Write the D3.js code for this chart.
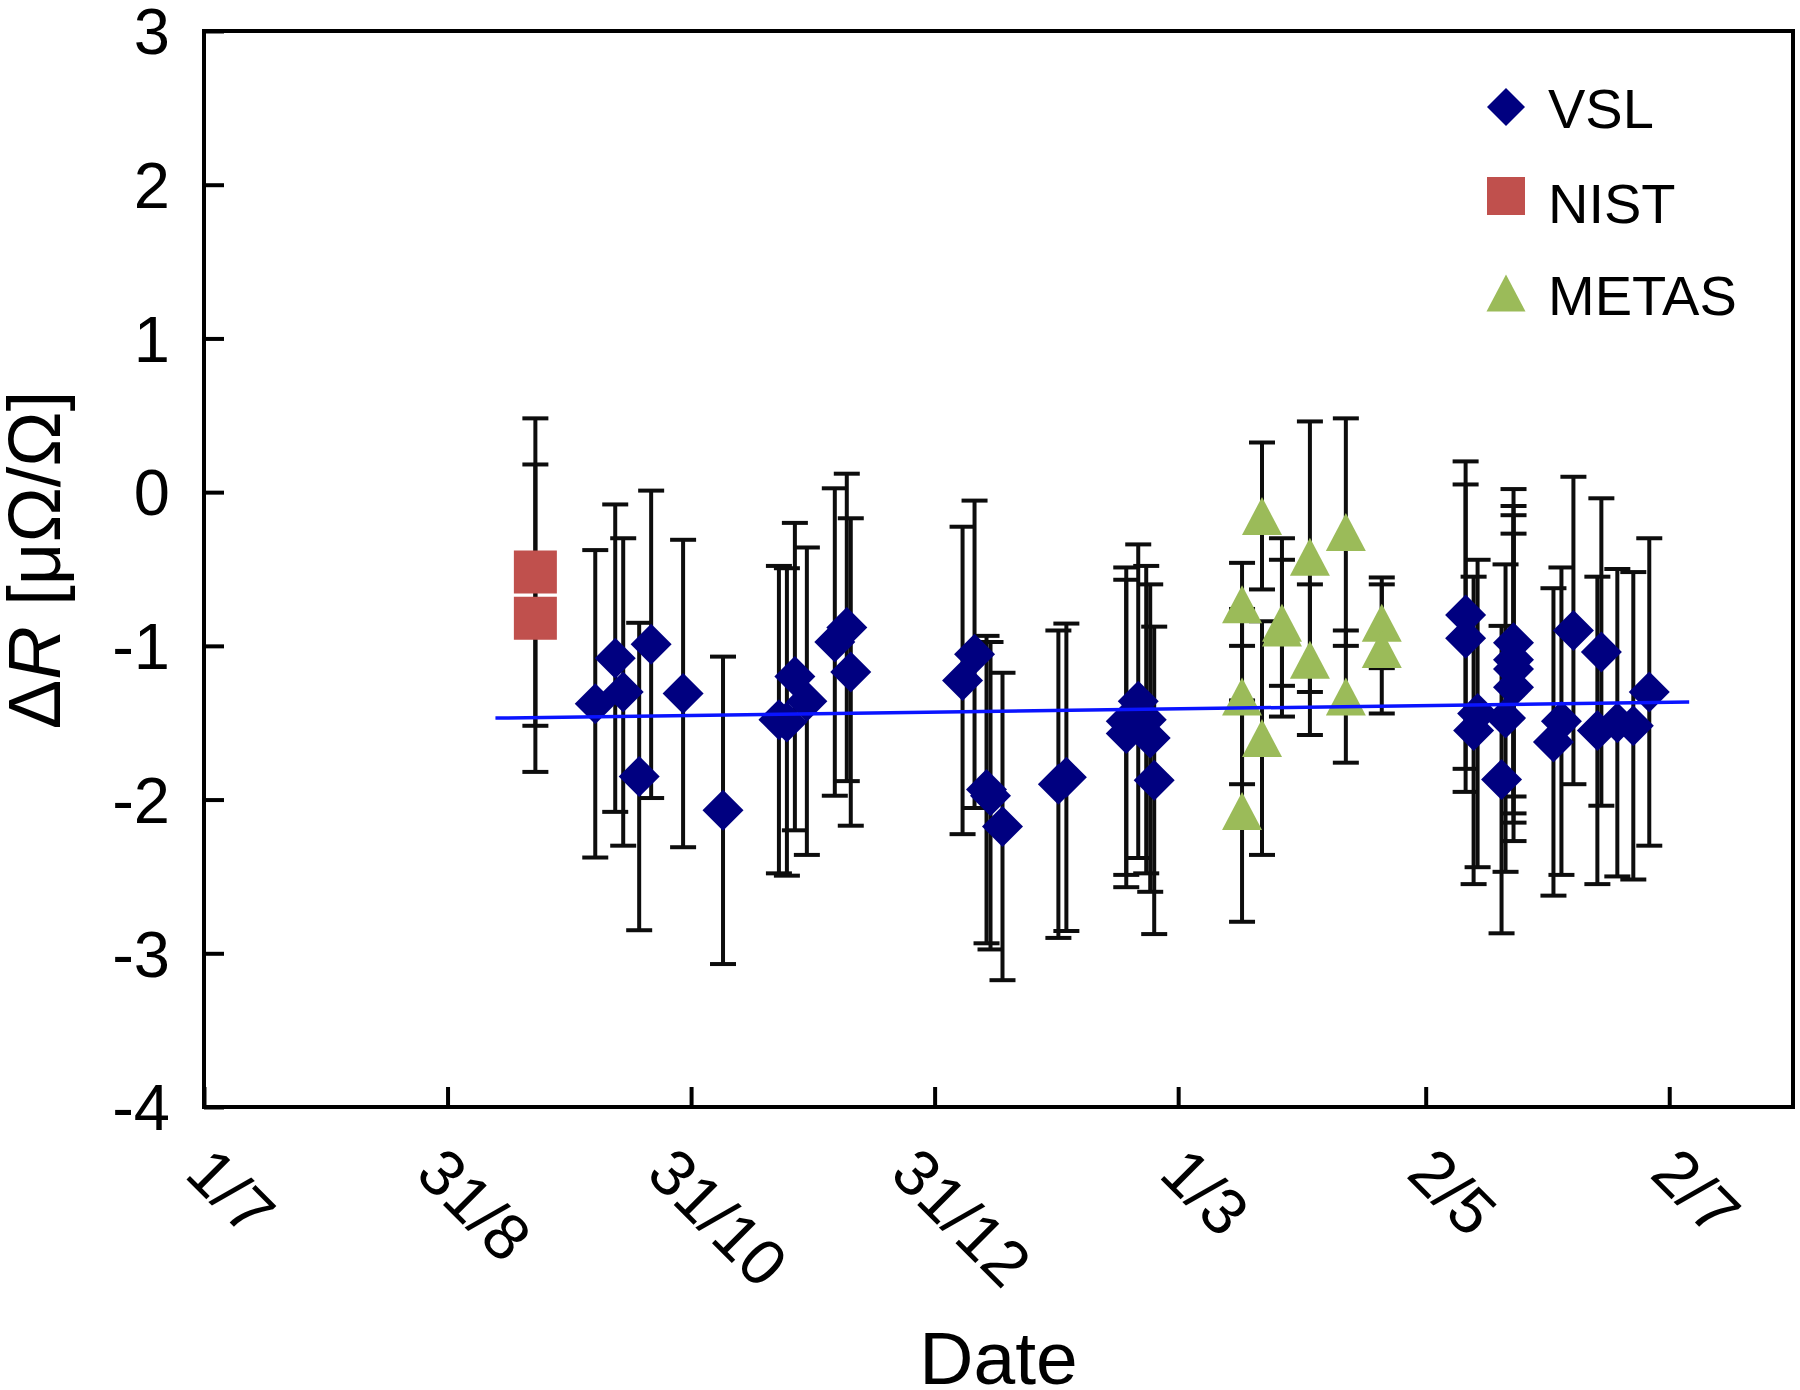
<!DOCTYPE html>
<html>
<head>
<meta charset="utf-8">
<script src="https://cdn.jsdelivr.net/npm/d3@7"></script>
<style>
  html, body { margin: 0; padding: 0; background: #fff; }
  svg { display: block; }
  text { font-family: "Liberation Sans", Arial, Helvetica, sans-serif; fill: #000; }
</style>
</head>
<body>
<svg id="chart" width="1800" height="1390"></svg>
<script>
// ---------------- DATA ----------------
const xTickDates  = ["2007-07-01","2007-08-31","2007-10-31","2007-12-31","2008-03-01","2008-05-02","2008-07-02"];
const xTickLabels = ["1/7","31/8","31/10","31/12","1/3","2/5","2/7"];
const yTickValues = [3, 2, 1, 0, -1, -2, -3, -4];

const vslDates = [
  "2007-10-07","2007-10-12","2007-10-14","2007-10-18","2007-10-21","2007-10-29","2007-11-08",
  "2007-11-22","2007-11-24","2007-11-26","2007-11-29","2007-12-06","2007-12-09","2007-12-10",
  "2008-01-07","2008-01-10","2008-01-13","2008-01-14","2008-01-17","2008-01-31","2008-02-02",
  "2008-02-17","2008-02-17","2008-02-20","2008-02-22","2008-02-23","2008-02-24",
  "2008-05-12","2008-05-12","2008-05-14","2008-05-15","2008-05-21","2008-05-22",
  "2008-05-24","2008-05-24","2008-05-24","2008-05-24",
  "2008-06-03","2008-06-05","2008-06-08","2008-06-14","2008-06-15","2008-06-19","2008-06-23","2008-06-27"
];
const vslValues = [
  -1.377, -1.08, -1.30, -1.85, -0.99, -1.31, -2.07,
  -1.48, -1.495, -1.20, -1.36, -0.975, -0.88, -1.17,
  -1.225, -1.055, -1.935, -1.975, -2.175, -1.90, -1.855,
  -1.49, -1.57, -1.36, -1.48, -1.60, -1.875,
  -0.80, -0.95, -1.55, -1.44, -1.87, -1.47,
  -0.98, -1.09, -1.15, -1.27,
  -1.625, -1.49, -0.90, -1.55, -1.04, -1.50, -1.52, -1.30
];
const vslErrors = [
  1.0, 1.0, 1.0, 1.0, 1.0, 1.0, 1.0,
  1.0, 1.0, 1.0, 1.0, 1.0, 1.0, 1.0,
  1.0, 1.0, 1.0, 1.0, 1.0, 1.0, 1.0,
  1.0, 1.0, 1.02, 1.0, 1.0, 1.0,
  1.0, 1.0, 1.0, 1.0, 1.0, 1.0,
  1.0, 1.0, 1.0, 1.0,
  1.0, 1.0, 1.0, 1.0, 1.0, 1.0, 1.0, 1.0
];

const nistDates  = ["2007-09-22","2007-09-22"];
const nistValues = [-0.52, -0.82];
const nistErrors = [1.0, 1.0];

const metasDates = [
  "2008-03-17","2008-03-17","2008-03-17","2008-03-22","2008-03-22","2008-03-27","2008-03-27",
  "2008-04-03","2008-04-03","2008-04-12","2008-04-12","2008-04-21","2008-04-21"
];
const metasValues = [-0.73, -1.33, -2.075, -0.155, -1.60, -0.88, -0.85, -0.42, -1.09, -0.26, -1.33, -0.85, -1.02];
const metasErrors = [0.27, 0.57, 0.72, 0.478, 0.76, 0.58, 0.41, 0.88, 0.49, 0.74, 0.43, 0.295, 0.42];

const trendDates  = ["2007-09-12","2008-07-07"];
const trendValues = [-1.47, -1.365];

const legendLabels = ["VSL","NIST","METAS"];

// ---------------- STYLE ----------------
const COL_VSL = "#000080", COL_NIST = "#C0504D", COL_METAS = "#9BBB59", COL_TREND = "#0a14ff";
const FONT = '"Liberation Sans", Arial, Helvetica, sans-serif';

const parse = d3.timeParse("%Y-%m-%d");
const svg = d3.select("#chart");

const plot = { left: 204, right: 1793, top: 31, bottom: 1107 };

const x = d3.scaleTime()
  .domain([parse("2007-07-01"), parse("2008-08-02")])
  .range([plot.left, plot.right]);
const y = d3.scaleLinear().domain([-4, 3]).range([plot.bottom, plot.top]);

// custom symbol types (bbox centred)
const diamondType = { draw(ctx, size) { const r = Math.sqrt(size) / 2;
  ctx.moveTo(0, -r); ctx.lineTo(r, 0); ctx.lineTo(0, r); ctx.lineTo(-r, 0); ctx.closePath(); } };
const triangleType = { draw(ctx, size) { const w = Math.sqrt(size), h = w * 0.95;
  ctx.moveTo(0, -h / 2); ctx.lineTo(w / 2, h / 2); ctx.lineTo(-w / 2, h / 2); ctx.closePath(); } };

// ---------------- AXES ----------------
const yAxis = d3.axisLeft(y).tickValues(yTickValues).tickSize(-20).tickSizeOuter(0).tickPadding(34)
  .tickFormat(d => String(d));
const gy = svg.append("g").attr("transform", `translate(${plot.left},0)`).call(yAxis);
gy.select(".domain").remove();
gy.selectAll(".tick line").attr("stroke", "#000").attr("stroke-width", 4);
gy.selectAll(".tick text").attr("font-size", 65).attr("font-family", FONT).attr("fill", "#000").attr("dy", "0.35em");

const tickDates = xTickDates.map(parse);
const xAxis = d3.axisBottom(x).tickValues(tickDates).tickSize(-20).tickSizeOuter(0)
  .tickFormat((d, i) => xTickLabels[i]);
const gx = svg.append("g").attr("transform", `translate(0,${plot.bottom})`).call(xAxis);
gx.select(".domain").remove();
gx.selectAll(".tick line").attr("stroke", "#000").attr("stroke-width", 4);
gx.selectAll(".tick text")
  .attr("font-size", 65).attr("font-family", FONT).attr("fill", "#000")
  .attr("text-anchor", "start").attr("x", 0).attr("y", 0).attr("dy", 0)
  .each(function () {
    const L = this.getComputedTextLength();
    const H = 65 * 0.716;
    const W = 0.707 * (L + H);
    const px = 27 - W / 2;
    const py = 1143 + 0.707 * H - plot.bottom;
    d3.select(this).attr("transform", `translate(${px},${py}) rotate(45)`);
  });

// frame
svg.append("rect")
  .attr("x", plot.left).attr("y", plot.top)
  .attr("width", plot.right - plot.left).attr("height", plot.bottom - plot.top)
  .attr("fill", "none").attr("stroke", "#000").attr("stroke-width", 4);

// ---------------- SERIES ----------------
function errorBars(dates, values, errs) {
  const g = svg.append("g").attr("stroke", "#0d0d0d").attr("stroke-width", 4).attr("fill", "none");
  const cap = 13;
  values.forEach((v, i) => {
    const cx = x(parse(dates[i]));
    const y1 = y(v + errs[i]), y2 = y(v - errs[i]);
    g.append("line").attr("x1", cx).attr("x2", cx).attr("y1", y1).attr("y2", y2);
    g.append("line").attr("x1", cx - cap).attr("x2", cx + cap).attr("y1", y1).attr("y2", y1);
    g.append("line").attr("x1", cx - cap).attr("x2", cx + cap).attr("y1", y2).attr("y2", y2);
  });
}
function markers(dates, values, type, size, fill) {
  const sym = d3.symbol().type(type).size(size);
  svg.append("g").selectAll("path").data(values).join("path")
    .attr("d", sym)
    .attr("transform", (v, i) => `translate(${x(parse(dates[i]))},${y(v)})`)
    .attr("fill", fill);
}

errorBars(vslDates, vslValues, vslErrors);
markers(vslDates, vslValues, diamondType, 41 * 41, COL_VSL);

errorBars(nistDates, nistValues, nistErrors);
markers(nistDates, nistValues, d3.symbolSquare, 43 * 43, COL_NIST);

errorBars(metasDates, metasValues, metasErrors);
markers(metasDates, metasValues, triangleType, 40 * 40, COL_METAS);

// trend line
const line = d3.line().x(d => x(parse(d[0]))).y(d => y(d[1]));
svg.append("path")
  .datum(trendDates.map((d, i) => [d, trendValues[i]]))
  .attr("d", line).attr("fill", "none").attr("stroke", COL_TREND).attr("stroke-width", 3.5);

// ---------------- LEGEND ----------------
const legendTypes = [diamondType, d3.symbolSquare, triangleType];
const legendSizes = [38 * 38, 38 * 38, 39 * 39];
const legendCols = [COL_VSL, COL_NIST, COL_METAS];
const legendMarkerY = [107, 196, 293];
const legendTextY = [128, 223, 315];
const lg = svg.append("g");
legendLabels.forEach((lab, i) => {
  lg.append("path").attr("d", d3.symbol().type(legendTypes[i]).size(legendSizes[i]))
    .attr("transform", `translate(1506,${legendMarkerY[i]})`).attr("fill", legendCols[i]);
  lg.append("text").attr("x", 1548).attr("y", legendTextY[i])
    .attr("font-size", 56).attr("font-family", FONT).text(lab);
});

// ---------------- TITLES ----------------
svg.append("text").attr("x", (plot.left + plot.right) / 2).attr("y", 1384)
  .attr("text-anchor", "middle").attr("font-size", 75).attr("font-family", FONT).text("Date");

const yt = svg.append("text").attr("transform", "translate(60,560) rotate(-90)")
  .attr("text-anchor", "middle").attr("font-size", 74).attr("font-family", FONT);
yt.append("tspan").text("Δ");
yt.append("tspan").attr("font-style", "italic").text("R");
yt.append("tspan").text(" [μΩ/Ω]");
</script>
</body>
</html>
